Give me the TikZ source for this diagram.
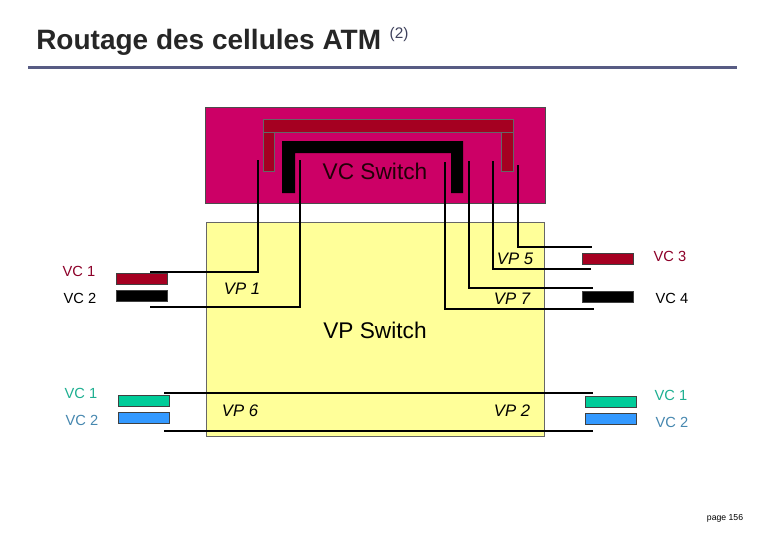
\documentclass[tikz,border=0pt]{standalone}
\usepackage{fontspec}
\setmainfont{Liberation Sans}
\definecolor{vcmagenta}{RGB}{204,0,102}
\definecolor{vcred}{RGB}{165,0,33}
\definecolor{vpyellow}{RGB}{255,255,153}
\definecolor{cellgreen}{RGB}{0,204,153}
\definecolor{cellblue}{RGB}{51,153,255}
\definecolor{txtred}{RGB}{140,0,40}
\definecolor{txtgreen}{RGB}{30,175,145}
\definecolor{txtblue}{RGB}{70,135,175}
\definecolor{rulecol}{RGB}{88,92,132}
\begin{document}
\begin{tikzpicture}[x = 0.75pt, y = -0.75pt,
    wire/.style = {line width = 1.5pt},
    cell/.style = {draw = black!75, line width = 0.5pt, inner sep = 0pt,
      minimum width = 38pt, minimum height = 8pt},
    vclabel/.style = {font = \fontsize{11}{13}\selectfont},
    vplabel/.style = {font = \fontsize{12.5}{14}\selectfont\itshape},
    swlabel/.style = {font = \fontsize{17}{20}\selectfont}]
      \useasboundingbox (0, 0) rectangle (780, 540);
      % title
      \node[anchor = base west, inner sep = 0pt, text = black!85,
        font = \fontsize{21}{25}\selectfont\bfseries] (title) at (36, 49)
        {Routage des cellules ATM};
      \node[anchor = base west, inner sep = 0pt, text = rulecol!70!black,
        font = \fontsize{11.5}{13}\selectfont] (titlenum)
        at ([xshift = 6pt, yshift = 8pt]title.base east) {(2)};
      \draw[rulecol, line width = 2.25pt] (28, 67) -- (737, 67);
      % switches
      \draw[fill = vcmagenta, draw = black!70, thin] (205, 107) rectangle (545, 203);
      \draw[fill = vpyellow, draw = black!60, thin] (206, 222) rectangle (544, 436);
      \draw[fill = vcred, draw = black!60, thin] (263, 119) rectangle (513, 132);
      \draw[fill = vcred, draw = black!60, thin] (263, 132) rectangle (274, 171);
      \draw[fill = vcred, draw = black!60, thin] (501, 132) rectangle (513, 171);
      \fill[black] (282, 193) -- (282, 141) -- (463, 141) -- (463, 193)
        -- (451, 193) -- (451, 153) -- (295, 153) -- (295, 193) -- cycle;
      \node[swlabel, text = black!80!vcred] (vcsw) at (375, 171) {VC Switch};
      \node[swlabel] (vpsw) at (375, 330) {VP Switch};
      % cells
      \node[cell, fill = vcred] (inA) at (142, 278.5) {};
      \node[cell, fill = black] (inB) at (142, 296) {};
      \node[cell, fill = vcred] (outA) at (607.5, 258.5) {};
      \node[cell, fill = black] (outB) at (607.5, 297) {};
      \node[cell, fill = cellgreen] (inC) at (144, 400.5) {};
      \node[cell, fill = cellblue] (inD) at (144, 418) {};
      \node[cell, fill = cellgreen] (outC) at (610.5, 401.5) {};
      \node[cell, fill = cellblue] (outD) at (610.5, 418.5) {};
      % wire ends
      \coordinate (tA) at (258, 160);
      \coordinate (tB) at (300, 160);
      \coordinate (tC) at (445, 162);
      \coordinate (tD) at (469, 161);
      \coordinate (tE) at (493, 161);
      \coordinate (tF) at (518, 165);
      \coordinate (eA) at (150, 272);
      \coordinate (eB) at (150, 307);
      \coordinate (eC) at (594, 309);
      \coordinate (eD) at (593, 288);
      \coordinate (eE) at (591, 269);
      \coordinate (eF) at (592, 247);
      \coordinate (eG) at (164, 393);
      \coordinate (eH) at (593, 393);
      \coordinate (eI) at (164, 431);
      \coordinate (eJ) at (593, 431);
      % wires
      \draw[wire] (tA) |- (eA);
      \draw[wire] (tB) |- (eB);
      \draw[wire] (tC) |- (eC);
      \draw[wire] (tD) |- (eD);
      \draw[wire] (tE) |- (eE);
      \draw[wire] (tF) |- (eF);
      \draw[wire] (eG) -- (eH);
      \draw[wire] (eI) -- (eJ);
      % path labels
      \node[vplabel] (vp1) at (242, 289) {VP 1};
      \node[vplabel] (vp5) at (515, 259) {VP 5};
      \node[vplabel] (vp7) at (512, 299) {VP 7};
      \node[vplabel] (vp6) at (240, 411) {VP 6};
      \node[vplabel] (vp2) at (512, 411) {VP 2};
      % channel labels
      \node[vclabel, text = txtred] (lA) at (79, 271) {VC 1};
      \node[vclabel] (lB) at (80, 298) {VC 2};
      \node[vclabel, text = txtred] (lC) at (670, 256) {VC 3};
      \node[vclabel] (lD) at (672, 298) {VC 4};
      \node[vclabel, text = txtgreen] (lE) at (81, 393) {VC 1};
      \node[vclabel, text = txtblue] (lF) at (82, 420) {VC 2};
      \node[vclabel, text = txtgreen] (lG) at (671, 395) {VC 1};
      \node[vclabel, text = txtblue] (lH) at (672, 422) {VC 2};
      % page number
      \node[font = \fontsize{6.5}{8}\selectfont] (page) at (725, 518) {page 156};
    \end{tikzpicture}
\end{document}
